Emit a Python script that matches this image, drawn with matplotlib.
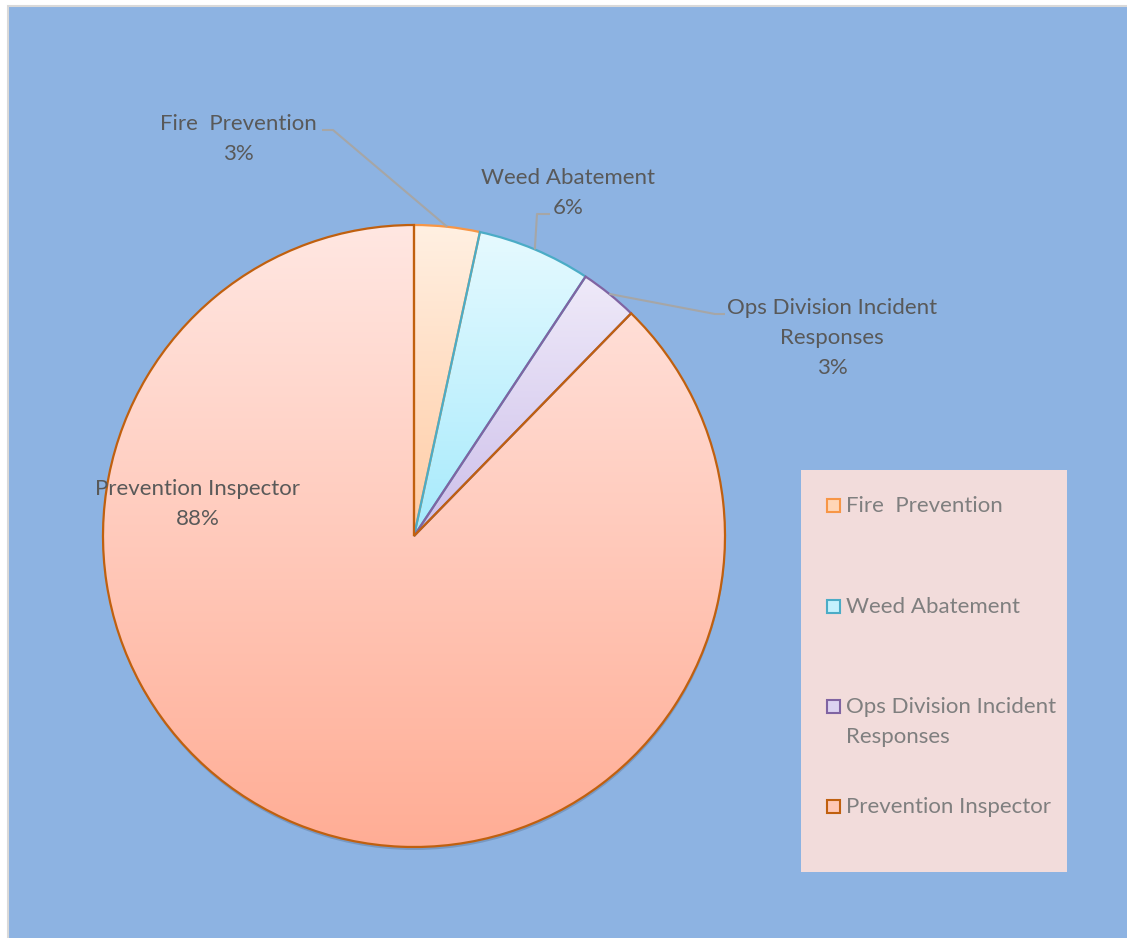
import numpy as np
import matplotlib.pyplot as plt
from matplotlib.patches import Rectangle, Circle
from matplotlib.colors import LinearSegmentedColormap

categories = ["Fire  Prevention", "Weed Abatement",
              "Ops Division Incident\nResponses", "Prevention Inspector"]
values = [3.4, 5.9, 3.0, 87.7]

top_colors = ["#FFF0E2", "#E6FAFF", "#EFEAF9", "#FFE7E2"]
bottom_colors = ["#FFCBA4", "#A6EAFC", "#CDBFEA", "#FFAD95"]
edge_colors = ["#F79646", "#4BACC6", "#8064A2", "#C0600F"]

plt.rcParams['font.family'] = ['Lato', 'DejaVu Sans']

W, H = 1127, 938
fig = plt.figure(figsize=(W / 100, H / 100), dpi=100)
ax = fig.add_axes([0, 0, 1, 1])

# chart area background
ax.add_patch(Rectangle((7.5, -2), W, H - 5.5 + 2, facecolor="#8DB3E2",
                       edgecolor="#D9D9D9", lw=1.5, zorder=0))

cx, cy, r = 414, H - 536, 311
# soft shadow under the pie
ax.add_patch(Circle((cx + 0.5, cy - 3), r, color="#3a4a60", alpha=0.25, lw=0, zorder=1))

wedges, _ = ax.pie(values, startangle=90, counterclock=False, center=(cx, cy),
                   radius=r, frame=True, wedgeprops=dict(linewidth=1.6))

grad = np.linspace(0, 1, 256).reshape(-1, 1)
for w, c0, c1, ec in zip(wedges, top_colors, bottom_colors, edge_colors):
    w.set_facecolor("none")
    w.set_edgecolor(ec)
    w.set_zorder(3)
    v = w.get_path().vertices
    cmap = LinearSegmentedColormap.from_list("g", [c1, c0])
    im = ax.imshow(grad, cmap=cmap, origin="lower", aspect="auto", zorder=2,
                   extent=[v[:, 0].min(), v[:, 0].max(), v[:, 1].min(), v[:, 1].max()],
                   interpolation="bilinear")
    im.set_clip_path(w)

# data labels with leader lines
total = sum(values)
cum = np.cumsum([0] + values[:-1])
mid = np.deg2rad(90 - 360 * (cum + np.array(values) / 2) / total)

label_pos = [(238.5, 139), (568, 193), (832, 338), (197.5, 504)]
leader = [[(322, 130), (333, 130)], [(550, 214), (537, 214)],
          [(725, 314), (715, 314)], None]

for i, cat in enumerate(categories):
    pct = values[i] / total * 100
    lx, ly = label_pos[i]
    ax.text(lx, H - ly, f"{cat}\n{pct:.0f}%", ha="center", va="center",
            fontsize=16, color="#595959", linespacing=1.6, zorder=5)
    if leader[i] is not None:
        ax_x = cx + r * np.cos(mid[i])
        ax_y = cy + r * np.sin(mid[i])
        pts = leader[i] + [(ax_x, H - ax_y)]
        ax.plot([p[0] for p in pts], [H - p[1] for p in pts], color="#A6A6A6",
                lw=1.5, zorder=4, solid_capstyle="butt")

# legend
ax.add_patch(Rectangle((801, H - 872), 266, 402, facecolor="#F2DCDB", lw=0, zorder=4))
legend_y = [505.5, 606, 706.5, 806.5]
mid_colors = ["#FFD6B6", "#C4F1FD", "#DCD3F1", "#FFC7B6"]
for i, cat in enumerate(categories):
    y = H - legend_y[i]
    ax.add_patch(Rectangle((827, y - 6.5), 13, 13, facecolor=mid_colors[i],
                           edgecolor=edge_colors[i], lw=1.5, zorder=5))
    for j, line in enumerate(cat.split("\n")):
        ax.text(846, y - 6.5 - 30 * j, line, ha="left", va="baseline", fontsize=16,
                color="#7F7F7F", zorder=5)

ax.set_xlim(0, W)
ax.set_ylim(0, H)
ax.set_axis_off()
fig.savefig("out.png", dpi=100, facecolor="white")
